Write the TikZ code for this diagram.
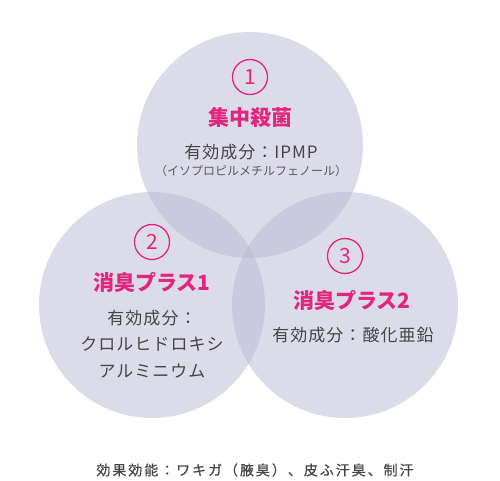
\documentclass[tikz,border=0pt]{standalone}
\usepackage{fontspec}
\setmainfont{Noto Sans CJK JP}
\newfontfamily\spacedfont[LetterSpace=6]{Noto Sans CJK JP}
\newfontfamily\effectfont[LetterSpace=14, FakeBold=0.6]{Noto Sans CJK JP}
\usepackage{tikz}
\usetikzlibrary{positioning}
\definecolor{venn}{HTML}{B9B7D3}
\definecolor{accentpink}{HTML}{E2267D}
\definecolor{textgray}{HTML}{454545}
\definecolor{subgray}{HTML}{5A5A5A}
\tikzset{
  bubble/.style={circle, fill=venn, fill opacity=0.5, minimum size=226pt, inner sep=0pt},
  numbadge/.style={circle, draw=accentpink, line width=1.3pt, text=accentpink, minimum size=35pt, inner sep=0pt, font=\fontsize{21}{21}\selectfont},
  title/.style={text=accentpink, font=\fontsize{21}{24}\selectfont\bfseries, inner sep=0pt},
  ingredient/.style={text=textgray, font=\spacedfont\fontsize{17}{26.5}\selectfont, align=center, inner sep=0pt},
  note/.style={text=subgray, font=\fontsize{12}{14}\selectfont, inner sep=0pt},
  effect/.style={text=textgray, font=\effectfont\fontsize{14}{16}\selectfont, inner sep=0pt}
}
\begin{document}
\begin{tikzpicture}[x=1pt, y=-1pt]
  \useasboundingbox (0,0) rectangle (500,481);

  \node[bubble] (topc) at (250,145) {};
  \node[bubble] (leftc) at (152,305) {};
  \node[bubble] (rightc) at (345,305) {};

  % top
  \node[numbadge] (one) at (250,77) {1};
  \node[title] (t1) at (250,118) {集中殺菌};
  \node[ingredient] (i1) at (251,152) {有効成分：IPMP};
  \node[note] (n1) at (251,171) {（イソプロピルメチルフェノール）};

  % left
  \node[numbadge] (two) at (152,242) {2};
  \node[title] (t2) at (152,282) {消臭プラス1};
  \node[ingredient] (i2) at (152,344) {有効成分：\\クロルヒドロキシ\\アルミニウム};

  % right
  \node[numbadge] (three) at (345,256) {3};
  \node[title] (t3) at (352,300) {消臭プラス2};
  \node[ingredient] (i3) at (353,335) {有効成分：酸化亜鉛};

  \node[effect] (eff) at (255,470) {効果効能：ワキガ（腋臭）、皮ふ汗臭、制汗};
\end{tikzpicture}
\end{document}
